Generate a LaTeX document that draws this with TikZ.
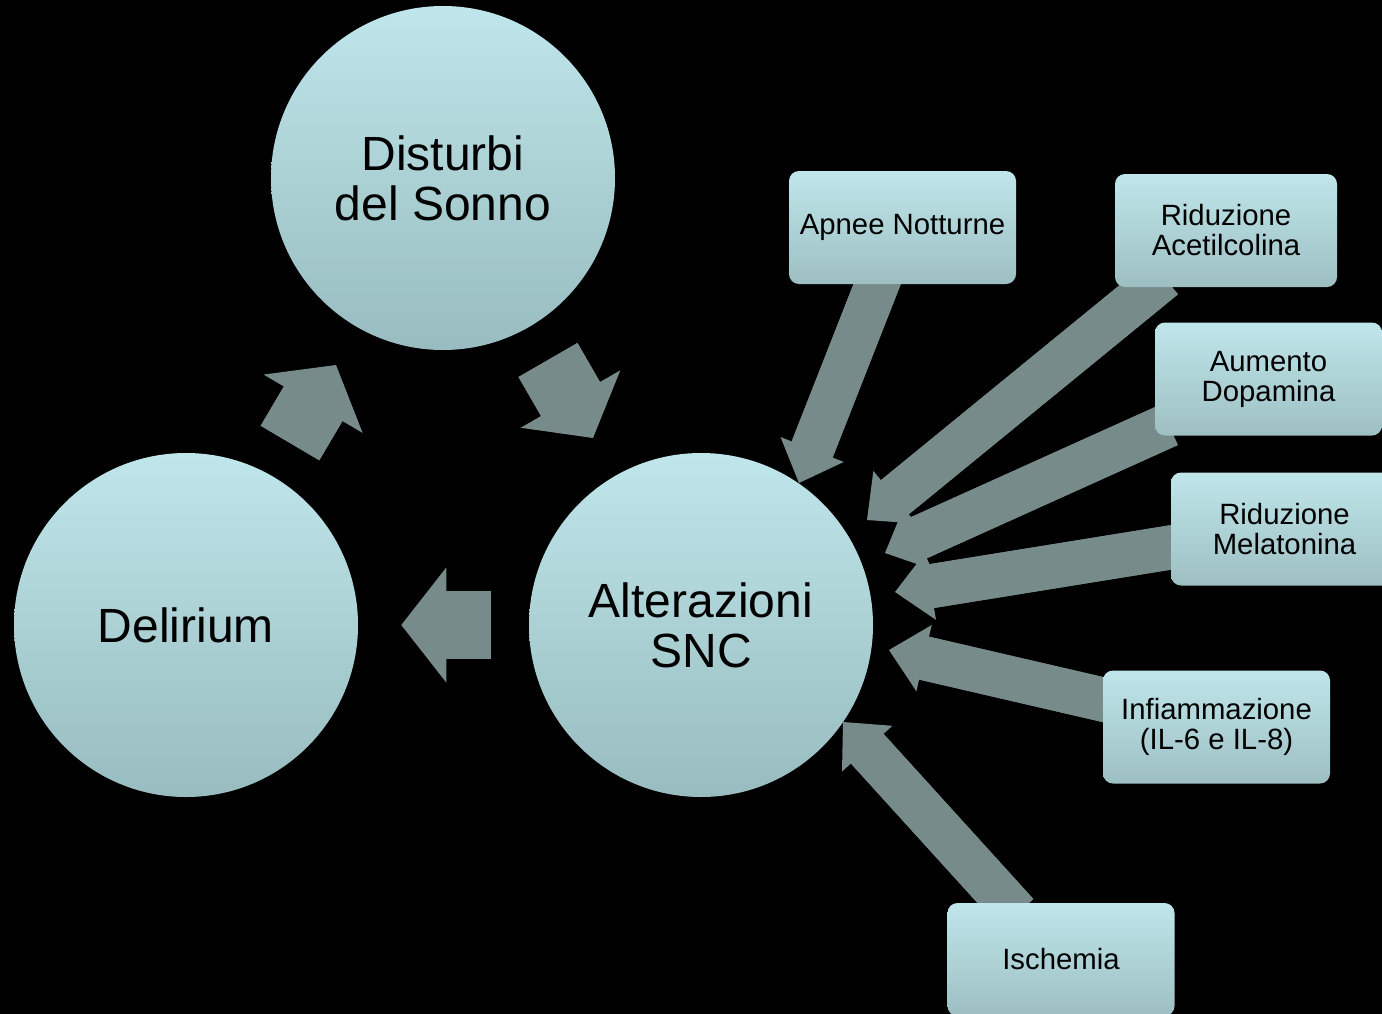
\documentclass[tikz,border=0pt]{standalone}
\usepackage{fontspec}
\setmainfont{Liberation Sans}
\usetikzlibrary{arrows.meta,calc}
\definecolor{arrowgray}{HTML}{778B8B}
\definecolor{ctop}{HTML}{BFE6EB}
\definecolor{cbot}{HTML}{98BCBF}
\definecolor{btop}{HTML}{BFE6EB}
\definecolor{bbot}{HTML}{9DBFC2}
\pgfdeclarelayer{bg}
\pgfsetlayers{bg,main}
\begin{document}
\begin{tikzpicture}[x=0.75pt,y=-0.75pt,
  bigcircle/.style={circle, minimum size=258pt, inner sep=0pt, top color=ctop, bottom color=cbot, draw=none, align=center, text=black, font=\fontsize{36pt}{37.5pt}\selectfont},
  factbox/.style={rectangle, rounded corners=7.5pt, minimum width=170.25pt, minimum height=84.75pt, inner sep=0pt, top color=btop, bottom color=bbot, draw=none, align=center, text=black, font=\fontsize{22pt}{22.5pt}\selectfont},
  thinarrow/.style={draw=arrowgray, line width=33pt, -{Triangle[length=27pt,width=51pt,line width=0pt,fill=arrowgray]},
    preaction={draw=arrowgray, line width=33pt, arrows=-, shorten >=22pt}},
  bigarrow/.style={draw=arrowgray, line width=51pt, -{Triangle[length=33.75pt,width=86.25pt,line width=0pt,fill=arrowgray]},
    preaction={draw=arrowgray, line width=51pt, arrows=-, shorten >=28pt}}]
\useasboundingbox (0,0) rectangle (1382,1014);
\clip (0,0) rectangle (1382,1014);
% circles
\node[bigcircle] (dist) at (443,178) {Disturbi\\del Sonno};
\node[bigcircle] (del) at (186,625) {Delirium};
\node[bigcircle] (alt) at (701,625) {Alterazioni\\SNC};
% boxes
\node[factbox] (apnee) at (902.5,227.5) {Apnee Notturne};
\node[factbox, minimum width=166.5pt] (acet) at (1226,230.5) {Riduzione\\Acetilcolina};
\node[factbox] (aum) at (1268.5,379) {Aumento\\Dopamina};
\node[factbox] (mel) at (1284.5,529) {Riduzione\\Melatonina};
\node[factbox] (inf) at (1216.5,727) {Infiammazione\\(IL-6 e IL-8)};
\node[factbox] (isc) at (1061,959.5) {Ischemia};
% free ends of the connectors
\coordinate (tApnee) at (799,483);
\coordinate (tAcet) at (867,520);
\coordinate (tAum) at (885,553);
\coordinate (tMel) at (895,592);
\coordinate (tInf) at (889,650);
\coordinate (tIsc) at (843,722);
\coordinate (dd1) at (290,443);
\coordinate (dd2) at (336,365);
\coordinate (da1) at (548,360);
\coordinate (da2) at (593,438);
\begin{pgfonlayer}{bg}
\fill[black] (0,0) rectangle (1382,1014);
\draw[thinarrow] ($(apnee.south)+(-21.5,-10)$) -- (tApnee);
\draw[thinarrow] ($(acet.south)+(-62,-10)$) -- (tAcet);
\draw[thinarrow] ($(aum.west)+(14,46)$) -- (tAum);
\draw[thinarrow] ($(mel.west)+(15,16)$) -- (tMel);
\draw[thinarrow] ($(inf.west)+(15,-24)$) -- (tInf);
\draw[thinarrow] ($(isc.north)+(-44,11)$) -- (tIsc);
\draw[bigarrow] ($(alt.west)+(-38,0)$) -- ($(del.east)+(43,0)$);
\draw[bigarrow] (dd1) -- (dd2);
\draw[bigarrow] (da1) -- (da2);
\end{pgfonlayer}
\end{tikzpicture}
\end{document}
